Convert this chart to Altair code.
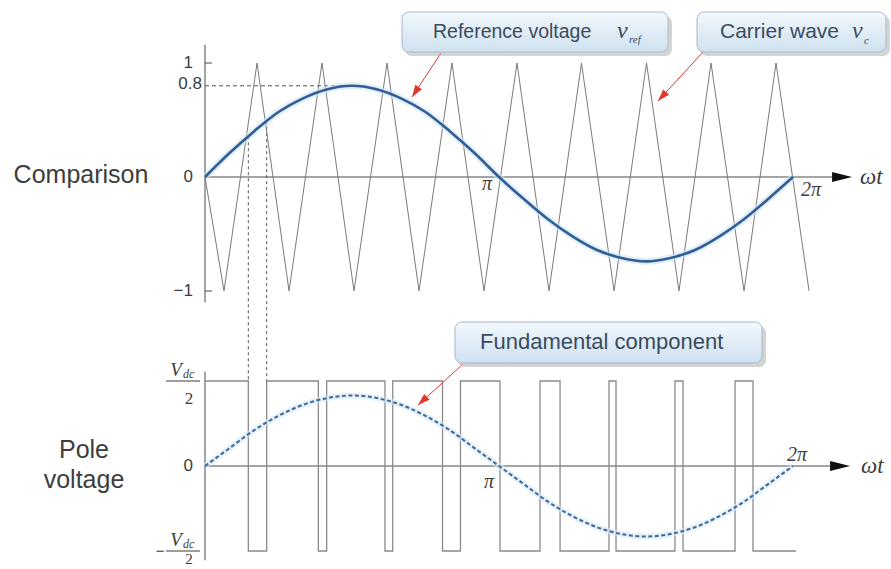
import math
import altair as alt
import pandas as pd

# ---------------------------------------------------------------- data
# reference voltage v_ref, sampled every 15 degrees (per-unit of carrier peak)
ref_deg = list(range(0, 361, 15))
ref_val = [0.0, 0.21, 0.40, 0.57, 0.69, 0.77, 0.80, 0.77, 0.69, 0.57, 0.40, 0.21, 0.0,
           -0.19, -0.37, -0.52, -0.64, -0.71, -0.74, -0.71, -0.64, -0.52, -0.37, -0.19, 0.0]

# fundamental component of the pole voltage (units of Vdc/2)
fund_val = [0.0, 0.21, 0.42, 0.59, 0.72, 0.80, 0.83, 0.80, 0.72, 0.59, 0.42, 0.21, 0.0,
            -0.21, -0.42, -0.59, -0.72, -0.80, -0.83, -0.80, -0.72, -0.59, -0.42, -0.21, 0.0]

# carrier wave v_c: vertices of the triangle (angle in rad, level)
carrier_t = [0.0, 0.203, 0.556, 0.898, 1.250, 1.592, 1.945, 2.287, 2.639, 2.981,
             3.334, 3.676, 4.023, 4.371, 4.718, 5.065, 5.407, 5.760, 6.102, 6.455]
carrier_v = [0, -1, 1, -1, 1, -1, 1, -1, 1, -1, 1, -1, 1, -1, 1, -1, 1, -1, 1, -1]

# pole voltage: switching instants (rad); output starts at +Vdc/2
switch_t = [0.463, 0.659, 1.211, 1.300, 1.923, 2.006, 2.538, 2.730, 3.152,
            3.580, 3.794, 4.317, 4.392, 5.022, 5.108, 5.664, 5.856]
pole_end = 6.315

# tick labels
top_ticks = [1, 0, -1]
top_tick_text = ["1", "0", "\u22121"]

# ---------------------------------------------------------------- tables
ref_df = pd.DataFrame({"t": [math.radians(d) for d in ref_deg], "v": ref_val})
fund_df = pd.DataFrame({"t": [math.radians(d) for d in ref_deg], "v": fund_val})
car_df = pd.DataFrame({"t": carrier_t, "v": carrier_v})

pole_rows = [(0.0, 1)]
level = 1
for s in switch_t:
    pole_rows.append((s, level))
    level = -level
    pole_rows.append((s, level))
pole_rows.append((pole_end, level))
pole_df = pd.DataFrame(pole_rows, columns=["t", "v"])
pole_df["i"] = range(len(pole_df))

# edges of the first low pulse, projected down from the comparison panel
proj_df = pd.DataFrame({"t": switch_t[:2]})
proj_df["v"] = [0.8 * math.sin(t) for t in switch_t[:2]]

one = pd.DataFrame({"k": [0]})

# ---------------------------------------------------------------- scales
TWO_PI = 2 * math.pi
X = alt.Scale(domain=[0, TWO_PI], range=[205, 793])
YT = alt.Scale(domain=[-1, 1], range=[291, 63])      # comparison panel
YB = alt.Scale(domain=[-1, 1], range=[551, 381])     # pole voltage panel
YB_TOP_PX = 381

AX = "#4a4a4a"
TXT = "#3d3d3d"
BOX_TXT = "#3a4b5f"
RED = "#e0382e"
SANS = "Liberation Sans"
SERIF = "Liberation Serif"

ARROW_PATH_BIG = "M0,0L0.25,1L-0.25,1Z"
ARROW_PATH_SMALL = "M0,0L0.33,1L-0.33,1Z"


def xd(v):
    return alt.XDatum(v, scale=X, axis=None)


def yt(v):
    return alt.YDatum(v, scale=YT, axis=None)


def yb(v):
    return alt.YDatum(v, scale=YB, axis=None)


def base():
    return alt.Chart(one)


layers = []

# ---------------------------------------------------------------- comparison panel
layers.append(base().mark_rule(color=AX, strokeWidth=1).encode(x=xd(0), y=yt(1.16), y2=alt.Y2Datum(-1.1)))
layers.append(base().mark_rule(color=AX, strokeWidth=1).encode(x=xd(0), x2=alt.X2Datum(6.70), y=yt(0)))
for tv in (1, -1):
    layers.append(base().mark_rule(color=AX, strokeWidth=1).encode(x=xd(0), x2=alt.X2Datum(0.075), y=yt(tv)))
layers.append(base().mark_rule(color="#555", strokeWidth=1, strokeDash=[4, 3]).encode(
    x=xd(0), x2=alt.X2Datum(math.pi / 2), y=yt(0.8)))
layers.append(base().mark_point(shape=ARROW_PATH_BIG, filled=True, size=1600, angle=90,
                                color="#111", opacity=1, strokeWidth=0).encode(x=xd(6.914), y=yt(0)))

layers.append(alt.Chart(proj_df).mark_rule(color="#555", strokeWidth=1, strokeDash=[3, 3]).encode(
    x=alt.X("t:Q", scale=X, axis=None), y=alt.Y("v:Q", scale=YT, axis=None), y2=alt.value(YB_TOP_PX)))

layers.append(alt.Chart(car_df).mark_line(color="#7a7a7a", strokeWidth=1).encode(
    x=alt.X("t:Q", scale=X, axis=None), y=alt.Y("v:Q", scale=YT, axis=None)))
# soft halo under the reference curve
layers.append(alt.Chart(ref_df).mark_line(color="#cfe2f3", strokeWidth=7, opacity=0.6,
                                          interpolate="monotone").encode(
    x=alt.X("t:Q", scale=X, axis=None), y=alt.Y("v:Q", scale=YT, axis=None)))
layers.append(alt.Chart(ref_df).mark_line(color="#2f5d94", strokeWidth=2.6, interpolate="monotone").encode(
    x=alt.X("t:Q", scale=X, axis=None), y=alt.Y("v:Q", scale=YT, axis=None)))

tick_df = pd.DataFrame({"v": top_ticks, "label": top_tick_text})
layers.append(alt.Chart(tick_df).mark_text(align="right", baseline="middle", fontSize=17, font=SANS,
                                           color=TXT).encode(
    x=alt.value(193), y=alt.Y("v:Q", scale=YT, axis=None), text="label:N"))
layers.append(base().mark_text(align="right", baseline="middle", fontSize=17, font=SANS, color=TXT,
                               text="0.8", dy=-2).encode(x=alt.value(202), y=yt(0.8)))

layers.append(base().mark_text(align="center", baseline="middle", fontSize=20, font=SERIF,
                               fontStyle="italic", color=TXT, text="\u03c0", dx=-12, dy=7).encode(
    x=xd(math.pi), y=yt(0)))
layers.append(base().mark_text(align="center", baseline="middle", fontSize=20, font=SERIF,
                               fontStyle="italic", color=TXT, text="2\u03c0", dx=18, dy=13).encode(
    x=xd(TWO_PI), y=yt(0)))
layers.append(base().mark_text(align="left", baseline="middle", fontSize=23, font=SERIF,
                               fontStyle="italic", color=TXT, text="\u03c9t", dx=8).encode(
    x=xd(6.914), y=yt(0)))
layers.append(base().mark_text(align="center", baseline="alphabetic", fontSize=25, font=SANS,
                               color=TXT, text="Comparison").encode(x=alt.value(81), y=alt.value(183)))

# ---------------------------------------------------------------- pole voltage panel
layers.append(base().mark_rule(color=AX, strokeWidth=1).encode(x=xd(0), y=yb(1.11), y2=alt.Y2Datum(-1.11)))
layers.append(base().mark_rule(color=AX, strokeWidth=1).encode(x=xd(0), x2=alt.X2Datum(6.68), y=yb(0)))
layers.append(base().mark_point(shape=ARROW_PATH_BIG, filled=True, size=1600, angle=90,
                                color="#111", opacity=1, strokeWidth=0).encode(x=xd(6.893), y=yb(0)))

layers.append(alt.Chart(pole_df).mark_line(color="#8a8a8a", strokeWidth=1.3).encode(
    x=alt.X("t:Q", scale=X, axis=None), y=alt.Y("v:Q", scale=YB, axis=None), order="i:Q"))
layers.append(alt.Chart(fund_df).mark_line(color="#d6e7f5", strokeWidth=6, opacity=0.6,
                                           interpolate="monotone").encode(
    x=alt.X("t:Q", scale=X, axis=None), y=alt.Y("v:Q", scale=YB, axis=None)))
layers.append(alt.Chart(fund_df).mark_line(color="#3f6898", strokeWidth=2, strokeDash=[4, 2.5],
                                           interpolate="monotone").encode(
    x=alt.X("t:Q", scale=X, axis=None), y=alt.Y("v:Q", scale=YB, axis=None)))

layers.append(base().mark_text(align="right", baseline="middle", fontSize=17, font=SANS, color=TXT,
                               text="0").encode(x=alt.value(193), y=yb(0)))
for lv, sign, two_dy, two_size in ((1, "", 23, 17), (-1, "\u2212", 13, 15)):
    layers.append(base().mark_rule(color=TXT, strokeWidth=1).encode(
        x=alt.value(166), x2=alt.value(200), y=yb(lv)))
    layers.append(base().mark_text(align="center", baseline="alphabetic", fontSize=19, font=SERIF,
                                   fontStyle="italic", color=TXT, text="V", dx=-5, dy=-5).encode(
        x=alt.value(181), y=yb(lv)))
    layers.append(base().mark_text(align="left", baseline="alphabetic", fontSize=12, font=SERIF,
                                   fontStyle="italic", color=TXT, text="dc", dy=-3).encode(
        x=alt.value(183), y=yb(lv)))
    layers.append(base().mark_text(align="center", baseline="alphabetic", fontSize=two_size, font=SERIF,
                                   color=TXT, text="2", dy=two_dy).encode(x=alt.value(189), y=yb(lv)))
    if sign:
        layers.append(base().mark_text(align="center", baseline="middle", fontSize=15, font=SANS,
                                       color=TXT, text=sign).encode(x=alt.value(160), y=yb(lv)))

layers.append(base().mark_text(align="center", baseline="middle", fontSize=20, font=SERIF,
                               fontStyle="italic", color=TXT, text="\u03c0", dx=-10, dy=16).encode(
    x=xd(math.pi), y=yb(0)))
layers.append(base().mark_text(align="center", baseline="middle", fontSize=20, font=SERIF,
                               fontStyle="italic", color=TXT, text="2\u03c0", dx=4, dy=-11).encode(
    x=xd(TWO_PI), y=yb(0)))
layers.append(base().mark_text(align="left", baseline="middle", fontSize=23, font=SERIF,
                               fontStyle="italic", color=TXT, text="\u03c9t", dx=11).encode(
    x=xd(6.893), y=yb(0)))
layers.append(base().mark_text(align="center", baseline="alphabetic", fontSize=25, font=SANS,
                               color=TXT, text="Pole").encode(x=alt.value(84), y=alt.value(458)))
layers.append(base().mark_text(align="center", baseline="alphabetic", fontSize=25, font=SANS,
                               color=TXT, text="voltage").encode(x=alt.value(84), y=alt.value(488)))

# ---------------------------------------------------------------- callouts
GRAD = {"gradient": "linear", "x1": 0, "y1": 0, "x2": 0, "y2": 1,
        "stops": [{"offset": 0, "color": "#f2f8fd"}, {"offset": 1, "color": "#cfe1f0"}]}


def callout(x0, y0, x1, y1):
    return [
        base().mark_rect(cornerRadius=7, fill="#b8b8b8", opacity=0.6).encode(
            x=alt.value(x0 + 3), x2=alt.value(x1 + 4), y=alt.value(y0 + 4), y2=alt.value(y1 + 4)),
        base().mark_rect(cornerRadius=7, fill=GRAD, stroke="#a7b8c9", strokeWidth=1).encode(
            x=alt.value(x0), x2=alt.value(x1), y=alt.value(y0), y2=alt.value(y1)),
    ]


def red_arrow(x0, y0, x1, y1):
    ang = math.degrees(math.atan2(x1 - x0, -(y1 - y0))) % 360
    return [
        base().mark_rule(color=RED, strokeWidth=1).encode(
            x=alt.value(x0), x2=alt.value(x1), y=alt.value(y0), y2=alt.value(y1)),
        base().mark_point(shape=ARROW_PATH_SMALL, filled=True, size=576, angle=ang, color=RED,
                          opacity=1, strokeWidth=0).encode(x=alt.value(x1), y=alt.value(y1)),
    ]


layers += red_arrow(441, 53, 412, 97)
layers += red_arrow(703, 52, 658, 101)
layers += red_arrow(463, 364, 418, 405)

layers += callout(402, 12, 668, 52)
layers.append(base().mark_text(align="left", baseline="alphabetic", fontSize=19.5, font=SANS,
                               color=BOX_TXT, text="Reference voltage").encode(
    x=alt.value(433), y=alt.value(38)))
layers.append(base().mark_text(align="left", baseline="alphabetic", fontSize=24, font=SERIF,
                               fontStyle="italic", color=BOX_TXT, text="v").encode(
    x=alt.value(617), y=alt.value(38)))
layers.append(base().mark_text(align="left", baseline="alphabetic", fontSize=11, font=SERIF,
                               fontStyle="italic", color=BOX_TXT, text="ref").encode(
    x=alt.value(629), y=alt.value(43)))

layers += callout(697, 12, 886, 52)
layers.append(base().mark_text(align="left", baseline="alphabetic", fontSize=21, font=SANS,
                               color=BOX_TXT, text="Carrier wave").encode(
    x=alt.value(720), y=alt.value(38)))
layers.append(base().mark_text(align="left", baseline="alphabetic", fontSize=24, font=SERIF,
                               fontStyle="italic", color=BOX_TXT, text="v").encode(
    x=alt.value(852), y=alt.value(38)))
layers.append(base().mark_text(align="left", baseline="alphabetic", fontSize=11, font=SERIF,
                               fontStyle="italic", color=BOX_TXT, text="c").encode(
    x=alt.value(864), y=alt.value(44)))

layers += callout(455, 322, 762, 363)
layers.append(base().mark_text(align="left", baseline="alphabetic", fontSize=22, font=SANS,
                               color=BOX_TXT, text="Fundamental component").encode(
    x=alt.value(480), y=alt.value(349)))

chart = alt.layer(*layers).resolve_scale(y="independent").properties(
    width=891, height=569, padding=0, autosize=alt.AutoSizeParams(type="none"),
    background="white",
).configure_view(stroke=None)

chart.save("out.html", embed_options={"renderer": "svg", "actions": False})
